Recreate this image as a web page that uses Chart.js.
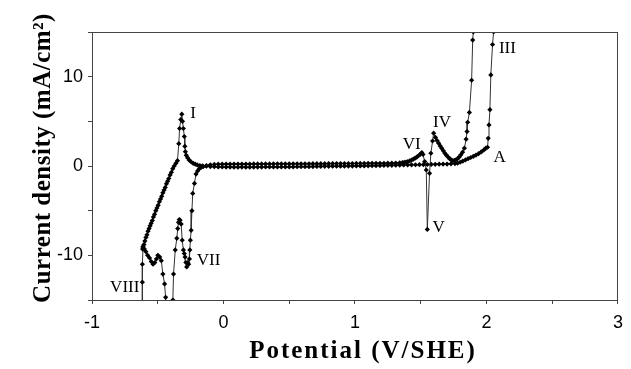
<!DOCTYPE html>
<html>
<head>
<meta charset="utf-8">
<script src="https://cdn.jsdelivr.net/npm/chart.js@4.4.1/dist/chart.umd.min.js"></script>
<style>
  html, body { margin: 0; padding: 0; background: #fff; }
  #cv { display: block; }
</style>
</head>
<body>
<canvas id="cv" width="631" height="369"></canvas>
<script>
// anodic (forward) scan, [potential V/SHE, current density mA/cm2]
const forwardScan = [
  [-0.615,-9.3],[-0.612,-9.0],[-0.605,-8.8],[-0.598,-8.4],[-0.590,-8.0],[-0.582,-7.7],[-0.574,-7.3],[-0.566,-7.0],
  [-0.558,-6.7],[-0.550,-6.4],[-0.541,-6.1],[-0.533,-5.7],[-0.524,-5.4],[-0.515,-5.0],[-0.506,-4.7],[-0.497,-4.4],
  [-0.488,-4.0],[-0.479,-3.7],[-0.470,-3.4],[-0.461,-3.0],[-0.452,-2.7],[-0.443,-2.4],[-0.434,-2.0],[-0.425,-1.7],
  [-0.416,-1.4],[-0.406,-1.0],[-0.396,-0.7],[-0.386,-0.3],[-0.375,0.0],[-0.362,0.3],[-0.350,0.6],
  [-0.340,2.5],[-0.334,4.2],[-0.325,5.2],[-0.317,5.8],[-0.312,5.0],[-0.305,4.2],[-0.298,3.3],[-0.294,2.2],
  [-0.290,1.6],[-0.283,1.2],[-0.272,0.9],[-0.260,0.65],[-0.245,0.45],[-0.230,0.3],[-0.215,0.2],[-0.200,0.12],
  [-0.180,0.05],[-0.160,0.02],
  [-0.13,-0.02],[-0.10,-0.06],[-0.07,-0.08],[-0.04,-0.1],[-0.01,-0.11],[0.02,-0.12],[0.05,-0.12],[0.08,-0.13],
  [0.11,-0.13],[0.14,-0.12],[0.17,-0.13],[0.20,-0.13],[0.23,-0.12],[0.26,-0.12],[0.29,-0.12],[0.32,-0.11],
  [0.35,-0.11],[0.38,-0.1],[0.41,-0.11],[0.44,-0.1],[0.47,-0.1],[0.50,-0.1],[0.53,-0.09],[0.56,-0.08],
  [0.59,-0.08],[0.62,-0.07],[0.65,-0.07],[0.68,-0.06],[0.71,-0.05],[0.74,-0.05],[0.77,-0.04],[0.80,-0.04],
  [0.83,-0.03],[0.86,-0.03],[0.89,-0.02],[0.92,-0.02],[0.95,-0.01],[0.98,-0.01],[1.01,0.0],[1.04,0.0],
  [1.07,0.01],[1.10,0.02],[1.13,0.03],[1.16,0.04],[1.19,0.05],[1.22,0.06],[1.25,0.07],[1.28,0.08],
  [1.31,0.09],[1.34,0.1],[1.37,0.11],[1.40,0.12],[1.43,0.13],[1.46,0.14],[1.49,0.15],[1.52,0.16],
  [1.55,0.17],[1.58,0.18],[1.61,0.19],[1.64,0.20],[1.67,0.21],[1.70,0.22],[1.73,0.24],[1.76,0.27],
  [1.78,0.32],[1.80,0.42],[1.82,0.55],[1.84,0.68],[1.86,0.82],[1.88,0.95],[1.90,1.08],[1.92,1.22],
  [1.94,1.38],[1.96,1.58],[1.98,1.8],[1.995,2.0],[2.008,2.1],
  [2.013,3.1],[2.019,4.6],[2.026,6.3],[2.033,10.2],[2.046,13.6],[2.054,15.0],[2.065,17.0]
];

// cathodic (reverse) scan
const reverseScan = [
  [1.905,17.0],[1.900,15.0],[1.895,14.1],[1.887,9.6],[1.870,6.0],[1.857,4.9],[1.852,3.85],[1.845,3.0],
  [1.832,2.0],[1.818,1.55],[1.805,1.25],[1.792,1.0],[1.780,0.82],[1.768,0.7],[1.756,0.62],[1.744,0.6],
  [1.732,0.68],[1.720,0.82],[1.708,1.0],[1.696,1.2],[1.684,1.42],[1.672,1.7],[1.660,1.98],[1.648,2.25],
  [1.636,2.55],[1.624,2.85],[1.612,3.2],[1.598,3.67],[1.590,2.8],[1.577,1.43],[1.567,-0.82],[1.550,-7.1],
  [1.542,-0.45],[1.530,0.5],[1.517,1.3],[1.508,1.5],[1.495,1.3],[1.482,1.15],[1.470,1.0],[1.457,0.88],
  [1.444,0.76],[1.430,0.66],[1.416,0.57],[1.402,0.5],[1.388,0.44],[1.374,0.4],[1.360,0.37],[1.340,0.35],
  [1.31,0.33],[1.28,0.32],[1.25,0.32],[1.22,0.31],[1.19,0.31],[1.16,0.30],[1.13,0.30],[1.10,0.30],
  [1.07,0.29],[1.04,0.29],[1.01,0.29],[0.98,0.28],[0.95,0.28],[0.92,0.28],[0.89,0.27],[0.86,0.27],
  [0.83,0.27],[0.80,0.27],[0.77,0.26],[0.74,0.26],[0.71,0.26],[0.68,0.26],[0.65,0.25],[0.62,0.25],
  [0.59,0.25],[0.56,0.25],[0.53,0.25],[0.50,0.24],[0.47,0.24],[0.44,0.24],[0.41,0.24],[0.38,0.24],
  [0.35,0.23],[0.32,0.23],[0.29,0.23],[0.26,0.23],[0.23,0.23],[0.20,0.22],[0.17,0.22],[0.14,0.22],
  [0.11,0.22],[0.08,0.21],[0.05,0.21],[0.02,0.21],[-0.01,0.2],[-0.04,0.2],[-0.07,0.18],[-0.10,0.14],
  [-0.13,0.05],[-0.155,-0.08],[-0.172,-0.18],[-0.184,-0.3],[-0.197,-0.55],[-0.209,-0.9],[-0.221,-1.95],
  [-0.234,-3.07],[-0.240,-5.0],[-0.246,-7.2],[-0.252,-8.3],[-0.256,-9.4],[-0.259,-10.4],[-0.265,-11.0],
  [-0.272,-10.8],[-0.280,-11.3],[-0.286,-10.8],[-0.292,-10.2],[-0.298,-9.8],[-0.305,-9.4],[-0.314,-8.3],
  [-0.322,-6.5],[-0.330,-6.07],[-0.336,-6.0],[-0.342,-6.3],[-0.348,-7.0],[-0.355,-8.1],[-0.367,-9.4],
  [-0.380,-12.1],[-0.385,-15.0],[-0.390,-18.0],[-0.435,-18.0],[-0.440,-14.7],[-0.448,-13.2],[-0.461,-12.1],
  [-0.473,-10.6],[-0.485,-10.2],[-0.499,-10.0],[-0.510,-10.4],[-0.522,-10.8],[-0.536,-11.0],[-0.549,-10.7],
  [-0.562,-10.3],[-0.577,-10.0],[-0.590,-9.6],[-0.602,-9.3],[-0.612,-9.1],[-0.617,-11.0],[-0.617,-13.0],
  [-0.617,-18.0]
];

// peak names and where they sit (data coords)
const peakNames = ['I', 'III', 'IV', 'V', 'VI', 'VII', 'VIII', 'A'];
const peakLabelPotential = [-0.231, 2.159, 1.662, 1.636, 1.432, -0.114, -0.751, 2.10];
const peakLabelCurrent = [5.84, 13.17, 4.83, -6.91, 2.45, -10.62, -13.56, 0.99];

const xMin = -1, xMax = 3, xStep = 0.5;
const yMin = -15, yMax = 15, yStep = 5;

const axisColor = '#444';
const tickFont = { family: 'Liberation Sans', size: 18 };

const peakLabels = {
  id: 'peakLabels',
  afterDatasetsDraw(chart) {
    const { ctx, scales: { x, y } } = chart;
    ctx.save();
    ctx.font = '17px "Liberation Serif"';
    ctx.fillStyle = '#000';
    ctx.textAlign = 'center';
    ctx.textBaseline = 'middle';
    peakNames.forEach((name, i) => {
      ctx.fillText(name, x.getPixelForValue(peakLabelPotential[i]), y.getPixelForValue(peakLabelCurrent[i]));
    });
    ctx.restore();
  }
};

// closes the plot box and draws the two axis titles
const frameAndTitles = {
  id: 'frameAndTitles',
  afterDraw(chart) {
    const { ctx, chartArea: a } = chart;
    ctx.save();
    ctx.strokeStyle = axisColor;
    ctx.lineWidth = 1;
    ctx.strokeRect(a.left + 0.5, a.top + 0.5, a.right - a.left - 1, a.bottom - a.top);

    ctx.fillStyle = '#000';
    ctx.font = 'bold 25px "Liberation Serif"';
    ctx.textAlign = 'center';
    ctx.textBaseline = 'alphabetic';
    if ('letterSpacing' in ctx) ctx.letterSpacing = '2px';
    ctx.fillText('Potential (V/SHE)', 363, 358);

    if ('letterSpacing' in ctx) ctx.letterSpacing = '0.5px';
    ctx.translate(50, 158);
    ctx.rotate(-Math.PI / 2);
    ctx.fillText('Current density (mA/cm\u00B2)', 0, 0);
    ctx.restore();
  }
};

const scanStyle = {
  showLine: true,
  borderColor: '#333',
  borderWidth: 1,
  pointStyle: 'rectRot',
  pointRadius: 2.6,
  pointBackgroundColor: '#000',
  pointBorderColor: '#000',
  pointBorderWidth: 0,
  clip: 0
};

new Chart(document.getElementById('cv'), {
  type: 'scatter',
  data: {
    datasets: [
      { label: 'forward', data: forwardScan.map(([x, y]) => ({ x, y })), ...scanStyle },
      { label: 'reverse', data: reverseScan.map(([x, y]) => ({ x, y })), ...scanStyle }
    ]
  },
  options: {
    responsive: false,
    animation: false,
    layout: { padding: { top: 32, right: 10, left: 0, bottom: 0 } },
    plugins: {
      legend: { display: false },
      tooltip: { enabled: false }
    },
    scales: {
      x: {
        type: 'linear',
        min: xMin,
        max: xMax,
        ticks: {
          stepSize: xStep,
          autoSkip: false,
          maxRotation: 0,
          padding: 8,
          color: '#000',
          font: tickFont,
          callback: v => Number.isInteger(v) ? String(v) : ''
        },
        grid: { drawOnChartArea: false, tickLength: 4, color: axisColor },
        border: { color: axisColor },
        afterFit: s => { s.height = 69; }
      },
      y: {
        type: 'linear',
        min: yMin,
        max: yMax,
        ticks: {
          stepSize: yStep,
          autoSkip: false,
          padding: 5,
          color: '#000',
          font: tickFont,
          callback: v => (v % 10 === 0) ? String(v) : ''
        },
        grid: { drawOnChartArea: false, tickLength: 4, color: axisColor },
        border: { color: axisColor },
        afterFit: s => { s.width = 92; }
      }
    }
  },
  plugins: [peakLabels, frameAndTitles]
});
</script>
</body>
</html>
